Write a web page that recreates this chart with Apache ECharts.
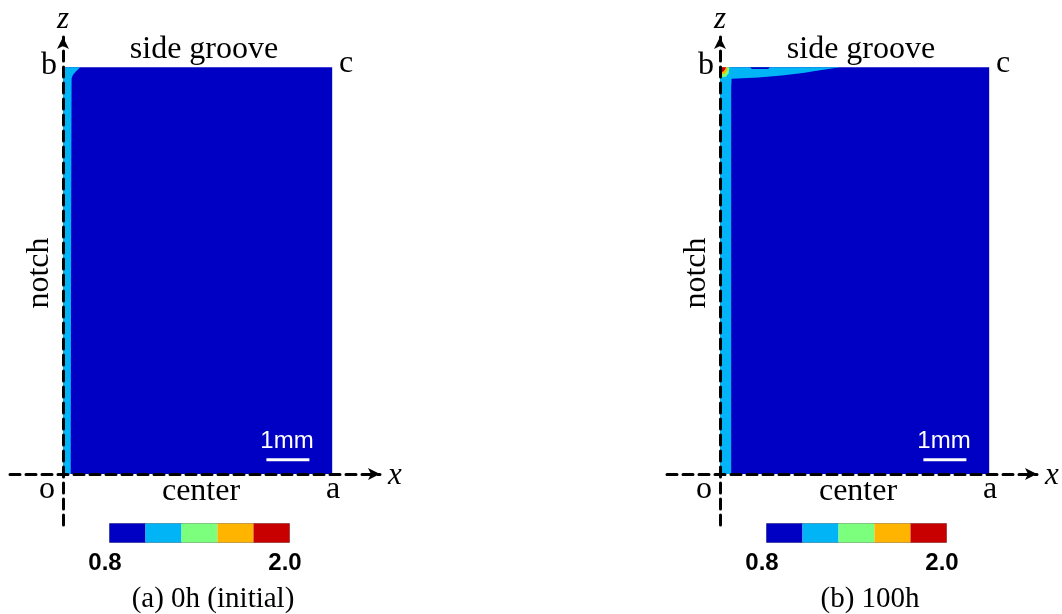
<!DOCTYPE html>
<html><head><meta charset="utf-8">
<script src="https://cdn.jsdelivr.net/npm/echarts@6/dist/echarts.min.js"></script>
<style>html,body{margin:0;padding:0;background:#fff}#c{width:1062px;height:614px}</style>
</head><body><div id="c"></div>
<script>
// ---- data (mm) ----
const W = 6.26, H = 9.46;
const levels = [0.8, 1.04, 1.28, 1.52, 1.76, 2.0];
const levelColors = ['#0000C4', '#00B4F6', '#7CFF7C', '#FFB400', '#C80000'];
const colorbarLabels = ['0.8', '2.0'];
const baseShape = [[0, 0], [W, 0], [W, H], [0, H]];
// panel (a) 0h
const aStrip = [[0, 0], [0.18, 0], [0.19, 6.0], [0.20, 9.2], [0.23, 9.28], [0.30, 9.36], [0.36, 9.42], [0.40, 9.46], [0, 9.46]];
const aShapes = [baseShape, aStrip];
const aValues = [0.92, 1.16];
// panel (b) 100h
const bLight = [[0, 0], [0.26, 0], [0.26, 9.0], [0.27, 9.19], [0.89, 9.22], [1.44, 9.27], [1.97, 9.33], [2.21, 9.37], [2.52, 9.42], [2.80, 9.46], [0, 9.46]];
const bPatch = [[0.70, 9.46], [0.74, 9.42], [1.12, 9.42], [1.16, 9.46]];
const bGreen = [[0, 9.22], [0.14, 9.24], [0.20, 9.32], [0.22, 9.46], [0, 9.46]];
const bOrange = [[0, 9.29], [0.11, 9.31], [0.16, 9.38], [0.17, 9.46], [0, 9.46]];
const bRed = [[0, 9.34], [0.08, 9.36], [0.12, 9.41], [0.14, 9.46], [0, 9.46]];
const bShapes = [baseShape, bLight, bPatch, bGreen, bOrange, bRed];
const bValues = [0.92, 1.16, 0.92, 1.40, 1.64, 1.88];
const scaleBar = [[4.73, 0.33], [5.73, 0.33]];
const captions = ['(a) 0h (initial)', '(b) 100h'];

// ---- layout ----
const PX = 43;               // pixels per mm
const OX = 63, OY = 474;     // origin of panel (a) in pixels
const DX = 657;              // horizontal shift of panel (b)
const GL = 10, GT = 37, GW = 370, GH = 488;
const xMin = (GL - OX) / PX, xMax = (GL + GW - OX) / PX;
const yMax = (OY - GT) / PX, yMin = (OY - GT - GH) / PX;

const serif = 'Liberation Serif, Times New Roman, serif';
const sans = 'Liberation Sans, Arial, sans-serif';

function makeRender(shapes) {
  return function (params, api) {
    const pts = shapes[api.value(1)].map(p => api.coord(p));
    return { type: 'polygon', shape: { points: pts }, style: { fill: api.visual('color'), stroke: null } };
  };
}
const axisLine = (sym) => ({
  show: true, onZero: true, symbol: sym, symbolSize: [9, 12], symbolOffset: [0, 0],
  lineStyle: { color: '#000', width: 3, type: [10, 6] }
});
const grids = [], xAxes = [], yAxes = [], series = [], vms = [], graphics = [];
[[aShapes, aValues], [bShapes, bValues]].forEach(([shapes, vals], i) => {
  const dx = i * DX;
  grids.push({ left: GL + dx, top: GT, width: GW, height: GH });
  xAxes.push({ gridIndex: i, type: 'value', min: xMin, max: xMax, z: 10,
    axisLine: axisLine(['none', 'arrow']), axisTick: { show: false }, axisLabel: { show: false }, splitLine: { show: false } });
  yAxes.push({ gridIndex: i, type: 'value', min: yMin, max: yMax, z: 10,
    axisLine: axisLine(['none', 'arrow']), axisTick: { show: false }, axisLabel: { show: false }, splitLine: { show: false } });
  series.push({ type: 'custom', xAxisIndex: i, yAxisIndex: i, silent: true, z: 2,
    renderItem: makeRender(shapes), data: vals.map((v, k) => [v, k]), clip: false });
  series.push({ type: 'line', xAxisIndex: i, yAxisIndex: i, silent: true, z: 5, symbol: 'none',
    lineStyle: { color: '#fff', width: 3 }, data: scaleBar });
  vms.push({ type: 'piecewise', seriesIndex: i * 2, dimension: 0, orient: 'horizontal',
    left: 109 + dx, top: 523, itemWidth: 36, itemHeight: 19, itemGap: 0, itemSymbol: 'rect',
    showLabel: false, selectedMode: false, hoverLink: false, padding: 0,
    borderColor: '#888', borderWidth: 1,
    pieces: levelColors.map((c, k) => ({ gte: levels[k], lt: levels[k + 1], color: c })) });
  const T = (text, x, y, font, extra) => graphics.push(Object.assign({ type: 'text', x: x + dx, y: y, z: 20,
    style: Object.assign({ text: text, font: font, fill: '#000', align: 'center', verticalAlign: 'middle' }, extra || {}) }));
  T('z', 63, 20, 'italic 31px ' + serif);
  T('b', 49, 66, '32px ' + serif);
  T('c', 346, 64, '32px ' + serif);
  T('side groove', 204, 50, '32px ' + serif);
  T('o', 47, 490, '32px ' + serif);
  T('a', 333, 490, '32px ' + serif);
  T('center', 201, 492, '32px ' + serif);
  T('x', 395, 476, 'italic 31px ' + serif);
  graphics.push({ type: 'text', x: 40 + dx, y: 273, rotation: Math.PI / 2, z: 20,
    style: { text: 'notch', font: '32px ' + serif, fill: '#000', align: 'center', verticalAlign: 'middle' } });
  T('1mm', 287, 441, '24px ' + sans, { fill: '#fff' });
  T(colorbarLabels[0], 105, 563, 'bold 24px ' + sans);
  T(colorbarLabels[1], 285, 563, 'bold 24px ' + sans);
  T(captions[i], 213, 599, '29px ' + serif);
});
const chart = echarts.init(document.getElementById('c'), null, { renderer: 'canvas' });
chart.setOption({ animation: false, backgroundColor: '#fff', grid: grids, xAxis: xAxes, yAxis: yAxes,
  visualMap: vms, series: series, graphic: graphics });
</script></body></html>
